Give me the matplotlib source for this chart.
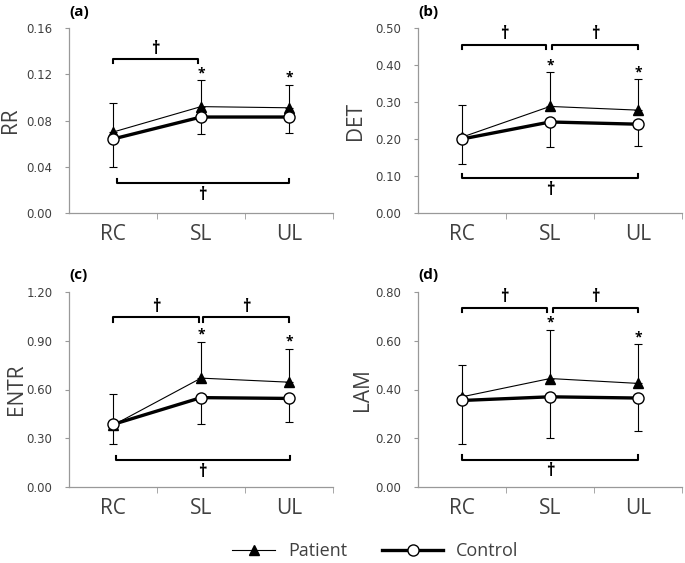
import numpy as np
import matplotlib
matplotlib.use("Agg")
import matplotlib.pyplot as plt
from matplotlib.lines import Line2D

plt.rcParams['font.family'] = ['Open Sans', 'DejaVu Sans']

# -------- data ---------------------------------------------
categories = ['RC', 'SL', 'UL']

rr_patient = [0.070, 0.092, 0.091]
rr_control = [0.064, 0.083, 0.083]
rr_patient_sd = [0.025, 0.023, 0.020]
rr_control_sd = [0.024, 0.015, 0.014]

det_patient = [0.205, 0.288, 0.278]
det_control = [0.200, 0.246, 0.240]
det_patient_sd = [0.087, 0.093, 0.084]
det_control_sd = [0.067, 0.067, 0.059]

entr_patient = [0.380, 0.670, 0.645]
entr_control = [0.385, 0.550, 0.545]
entr_patient_sd = [0.190, 0.225, 0.205]
entr_control_sd = [0.120, 0.165, 0.145]

lam_patient = [0.370, 0.445, 0.425]
lam_control = [0.355, 0.370, 0.365]
lam_patient_sd = [0.130, 0.200, 0.160]
lam_control_sd = [0.180, 0.170, 0.135]

y_labels = ['RR', 'DET', 'ENTR', 'LAM']
panel_tags = ['(a)', '(b)', '(c)', '(d)']
y_ticks = [np.arange(0, 0.161, 0.04), np.arange(0, 0.501, 0.10),
           np.arange(0, 1.201, 0.30), np.arange(0, 0.801, 0.20)]
star_at = [1, 2]  # SL and UL differ patient vs control

# significance brackets (x from, x to) and their heights
top_pairs = [[(0, 0.97)], [(0, 0.96), (1.02, 2.0)],
             [(0, 0.98), (1.02, 2.0)], [(0, 0.97), (1.03, 2.0)]]
top_level = [0.133, 0.455, 1.046, 0.735]
bottom_pair = [(0.04, 2.0), (0.0, 2.0), (0.03, 2.01), (0.0, 2.0)]
bottom_level = [0.026, 0.094, 0.164, 0.112]

patients = [rr_patient, det_patient, entr_patient, lam_patient]
controls = [rr_control, det_control, entr_control, lam_control]
patient_sds = [rr_patient_sd, det_patient_sd, entr_patient_sd, lam_patient_sd]
control_sds = [rr_control_sd, det_control_sd, entr_control_sd, lam_control_sd]

# -------- layout ---------------------------------------------
W, H = 685, 563
fig = plt.figure(figsize=(W / 100, H / 100), dpi=100)
boxes = [(69, 28, 264, 185), (418, 28, 264, 185),
         (69, 292, 264, 195), (418, 292, 264, 195)]
y_lab_x = [-0.22, -0.235, -0.20, -0.21]

grey = '#999999'
txt = '#404040'
x = np.arange(len(categories))

for k, (l, t, w, h) in enumerate(boxes):
    ax = fig.add_axes([l / W, 1 - (t + h) / H, w / W, h / H])
    ymax = y_ticks[k][-1]
    p, c = patients[k], controls[k]

    ax.errorbar(x, p, yerr=[np.zeros(3), patient_sds[k]], fmt='none',
                ecolor='black', elinewidth=0.8, capsize=3, capthick=0.8, zorder=2)
    ax.errorbar(x, c, yerr=[control_sds[k], np.zeros(3)], fmt='none',
                ecolor='black', elinewidth=0.8, capsize=3, capthick=0.8, zorder=2)
    ax.plot(x, p, color='black', lw=0.8, marker='^', ms=7.5,
            mfc='black', mec='black', zorder=3)
    ax.plot(x, c, color='black', lw=2.4, marker='o', ms=8,
            mfc='white', mec='black', mew=1.0, zorder=4)

    for i in star_at:
        ax.annotate('*', xy=(x[i], p[i] + patient_sds[k][i]), xytext=(0, 0),
                    textcoords='offset points', ha='center', va='bottom',
                    fontsize=10, fontweight='bold', color='black')

    leg = 0.023 * ymax
    for x0, x1 in top_pairs[k]:
        yl = top_level[k]
        ax.plot([x0, x0, x1, x1], [yl - leg, yl, yl, yl - leg],
                color='black', lw=1.5, clip_on=False)
        ax.annotate('†', xy=((x0 + x1) / 2, yl), xytext=(0, 1),
                    textcoords='offset points', ha='center', va='bottom',
                    fontsize=12, fontweight='bold', color='black')
    x0, x1 = bottom_pair[k]
    yl = bottom_level[k]
    ax.plot([x0, x0, x1, x1], [yl + leg, yl, yl, yl + leg],
            color='black', lw=1.5, clip_on=False)
    ax.annotate('†', xy=((x0 + x1) / 2, yl), xytext=(0, -2),
                textcoords='offset points', ha='center', va='top',
                fontsize=12, fontweight='bold', color='black')

    ax.set_xlim(-0.5, 2.5)
    ax.set_ylim(0, ymax)
    ax.set_yticks(y_ticks[k])
    ax.set_yticklabels(['%.2f' % v for v in y_ticks[k]], family='DejaVu Sans')
    ax.set_xticks(x)
    ax.set_xticklabels(categories)
    ax.set_xticks([0.5, 1.5, 2.5], minor=True)
    ax.tick_params(axis='x', which='major', length=0, pad=8,
                   labelsize=15, labelcolor=txt)
    ax.tick_params(axis='x', which='minor', length=4, color=grey, direction='out')
    ax.tick_params(axis='y', length=3, color=grey, pad=9,
                   labelsize=8.5, labelcolor=txt)
    for s in ['top', 'right']:
        ax.spines[s].set_visible(False)
    for s in ['left', 'bottom']:
        ax.spines[s].set_color(grey)
        ax.spines[s].set_linewidth(0.9)

    ax.set_ylabel(y_labels[k], fontsize=15, color=txt, va='center')
    ax.yaxis.set_label_coords(y_lab_x[k], 0.5)
    ax.text(0.0, 1.05, panel_tags[k], transform=ax.transAxes, ha='left',
            va='bottom', fontsize=11, fontweight='bold', color='black')

# -------- legend ---------------------------------------------
h_pat = Line2D([], [], color='black', lw=0.8, marker='^', ms=7.5, mfc='black')
h_con = Line2D([], [], color='black', lw=2.4, marker='o', ms=8,
               mfc='white', mec='black')
for hd, lab, xl, hl in [(h_pat, 'Patient', 232, 2.4), (h_con, 'Control', 382, 3.4)]:
    fig.legend([hd], [lab], loc='center left', bbox_to_anchor=(xl / W, 1 - 551 / H),
               frameon=False, fontsize=13, handlelength=hl, handletextpad=0.7,
               borderpad=0, borderaxespad=0, numpoints=1, labelcolor=txt)

fig.savefig('out.png', dpi=100)
